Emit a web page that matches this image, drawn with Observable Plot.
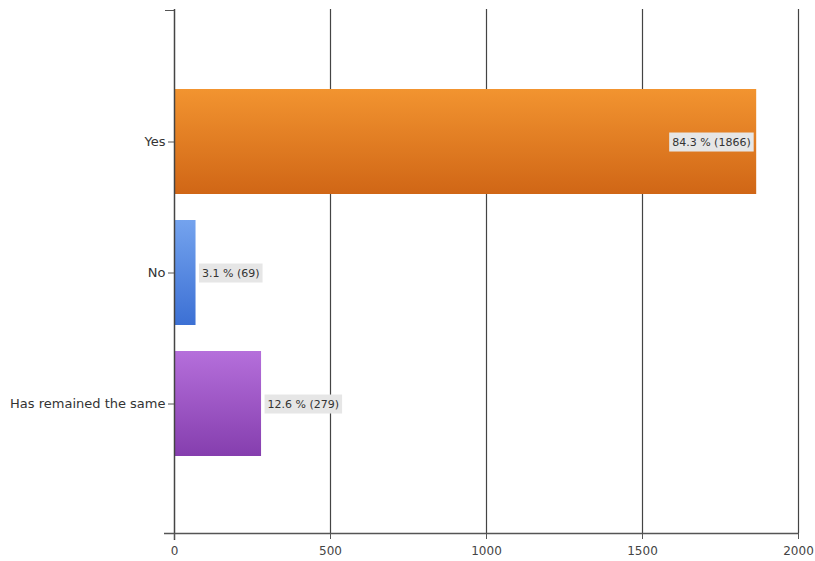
<!DOCTYPE html>
<html><head><meta charset="utf-8">
<script src="https://cdn.jsdelivr.net/npm/d3@7"></script>
<script src="https://cdn.jsdelivr.net/npm/@observablehq/plot@0.6"></script>
<style>body{margin:0;background:#fff} #chart svg{display:block}</style>
</head><body><div id="chart"></div>
<script>
const categories = ["Yes", "No", "Has remained the same"];
const counts = [1866, 69, 279];
const percents = [84.3, 3.1, 12.6];
const xTicks = [0, 500, 1000, 1500, 2000];
const gradientTop = ["#f29430", "#74a3ee", "#b56fdb"];
const gradientBottom = ["#d06616", "#3c70d4", "#853eae"];

const data = categories.map((c, i) => ({
  category: c,
  count: counts[i],
  fill: `url(#grad${i})`,
  label: `${percents[i].toFixed(1)} % (${counts[i]})`,
  inside: counts[i] > 1500
}));

const defsMark = () => {
  const defs = d3.create("svg:defs");
  gradientTop.forEach((a, i) => {
    const g = defs.append("linearGradient").attr("id", "grad" + i)
      .attr("x1", 0).attr("y1", 0).attr("x2", 0).attr("y2", 1);
    g.append("stop").attr("offset", "0%").attr("stop-color", a);
    g.append("stop").attr("offset", "100%").attr("stop-color", gradientBottom[i]);
  });
  return defs.node();
};

const axisLineMark = (index, scales, values, dims) => {
  const g = d3.create("svg:g");
  const y = dims.height - dims.marginBottom + 0.5;
  g.append("line").attr("x1", dims.marginLeft - 10).attr("x2", dims.width - dims.marginRight)
    .attr("y1", y).attr("y2", y).attr("stroke", "#555").attr("stroke-width", 1.5);
  const t = dims.marginTop + 1.5;
  g.append("line").attr("x1", dims.marginLeft - 9).attr("x2", dims.marginLeft)
    .attr("y1", t).attr("y2", t).attr("stroke", "#555");
  return g.node();
};

const chart = Plot.plot({
  width: 815,
  height: 561,
  marginLeft: 174,
  marginRight: 17,
  marginTop: 9,
  marginBottom: 28,
  style: {fontFamily: "'DejaVu Sans', sans-serif", fontSize: "12px", color: "#333", background: "#fff"},
  x: {domain: [0, 2000], label: null},
  y: {domain: categories, range: [9, 537], paddingInner: 0.197, paddingOuter: 0.6, label: null},
  color: {type: "identity"},
  marks: [
    defsMark,
    Plot.ruleX(xTicks.slice(1), {stroke: "#444", strokeWidth: 1.2}),
    Plot.barX(data, {y: "category", x: "count", fill: "fill"}),
    Plot.ruleX([0], {stroke: "#444", strokeWidth: 1.5, insetBottom: -7}),
    axisLineMark,
    Plot.axisX({ticks: xTicks, tickFormat: d3.format("d"), tickSize: 6, tickPadding: 7, fontSize: 12, stroke: "#555", fill: "#444", label: null}),
    Plot.axisY({tickSize: 6, tickPadding: 3, fontSize: 13, stroke: "#555", fill: "#333", label: null}),
    Plot.text(data.filter(d => d.inside), {y: "category", x: "count", text: "label", textAnchor: "end", dx: -6, fontSize: 11, fill: "#333"}),
    Plot.text(data.filter(d => !d.inside), {y: "category", x: "count", text: "label", textAnchor: "start", dx: 6, fontSize: 11, fill: "#333"})
  ]
});

document.getElementById("chart").appendChild(chart);

const labelSet = new Set(data.map(d => d.label));
chart.querySelectorAll("text").forEach(t => {
  if (!labelSet.has(t.textContent)) return;
  const b = t.getBBox();
  const r = document.createElementNS("http://www.w3.org/2000/svg", "rect");
  r.setAttribute("x", b.x - 3);
  r.setAttribute("y", b.y - 3);
  r.setAttribute("width", b.width + 6);
  r.setAttribute("height", b.height + 6);
  r.setAttribute("fill", "#e6e6e6");
  const tr = t.getAttribute("transform");
  if (tr) r.setAttribute("transform", tr);
  t.parentNode.insertBefore(r, t);
});
</script>
</body></html>
